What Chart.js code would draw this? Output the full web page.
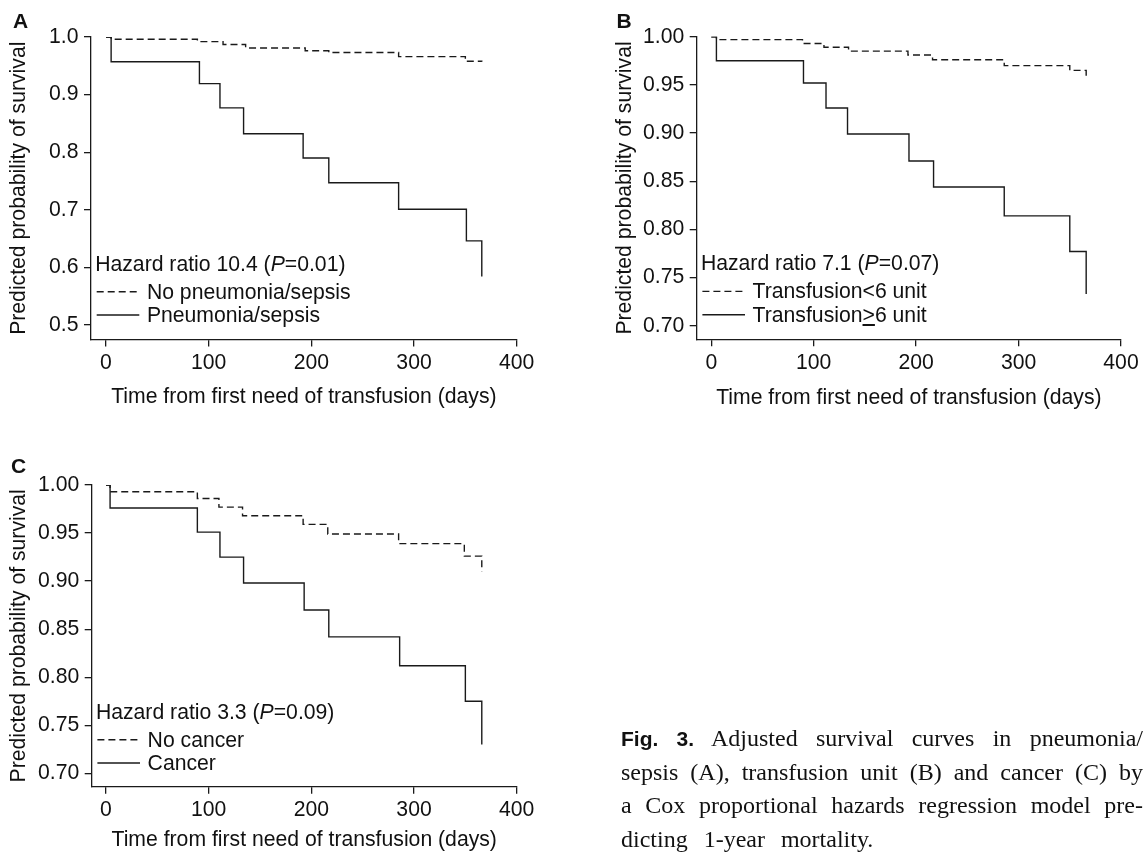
<!DOCTYPE html>
<html>
<head>
<meta charset="utf-8">
<script src="https://cdn.jsdelivr.net/npm/chart.js@4.4.1/dist/chart.umd.min.js"></script>
<style>
html,body{margin:0;padding:0;background:#fff;width:1145px;height:859px;overflow:hidden;}
#page{position:relative;width:1145px;height:859px;overflow:hidden;background:#fff;}
canvas{position:absolute;}
.t{position:absolute;white-space:nowrap;font-family:'Liberation Sans',Arial,sans-serif;color:#111;font-size:21.2px;line-height:21.2px;}
.lab{position:absolute;white-space:nowrap;font-family:'Liberation Sans',Arial,sans-serif;font-weight:bold;color:#111;font-size:21px;line-height:21px;}
.cap{position:absolute;left:621px;width:522px;font-family:'Liberation Serif','Times New Roman',serif;font-size:24px;line-height:24px;color:#111;text-align:justify;text-align-last:justify;white-space:normal;}
.cap b{font-family:'Liberation Sans',Arial,sans-serif;font-size:21px;}
#leg{position:absolute;left:0;top:0;width:1145px;height:859px;pointer-events:none;}
</style>
</head>
<body>
<div id="page">
  <canvas id="cA" width="545" height="430" style="left:0px;top:0px;width:545px;height:430px"></canvas>
  <canvas id="cB" width="539" height="430" style="left:606px;top:0px;width:539px;height:430px"></canvas>
  <canvas id="cC" width="545" height="430" style="left:0px;top:448px;width:545px;height:430px"></canvas>
  <svg id="leg" width="1145" height="859"></svg>
</div>
<script>
// ---------- data ----------
const xTicks = [0, 100, 200, 300, 400];
const xTickLabels = ['0', '100', '200', '300', '400'];
const yTicksA = [0.5, 0.6, 0.7, 0.8, 0.9, 1.0];
const yTickLabelsA = ['0.5', '0.6', '0.7', '0.8', '0.9', '1.0'];
const yTicksBC = [0.70, 0.75, 0.80, 0.85, 0.90, 0.95, 1.00];
const yTickLabelsBC = ['0.70', '0.75', '0.80', '0.85', '0.90', '0.95', '1.00'];

const xTitle = 'Time from first need of transfusion (days)';
const yTitle = 'Predicted probability of survival';
const panelLetters = ['A', 'B', 'C'];
const hazardRatios = ['10.4', '7.1', '3.3'];
const pValues = ['0.01', '0.07', '0.09'];

// Panel A
const labelsA = ['No pneumonia/sepsis', 'Pneumonia/sepsis'];
const daysA_no = [0, 5, 89, 114, 136, 194, 217, 285, 350, 366];
const survA_no = [1.000, 0.996, 0.992, 0.987, 0.981, 0.976, 0.973, 0.966, 0.958, 0.957];
const daysA_yes = [0, 5, 91, 111, 134, 192, 217, 285, 351, 366];
const survA_yes = [1.000, 0.957, 0.919, 0.877, 0.832, 0.790, 0.747, 0.701, 0.646, 0.584];

// Panel B
const labelsB = ['Transfusion<6 unit', 'Transfusion\u22656 unit'];
const daysB_lt6 = [0, 5, 89, 110, 134, 192, 216, 286, 350, 366];
const survB_lt6 = [1.000, 0.997, 0.993, 0.989, 0.985, 0.981, 0.976, 0.970, 0.965, 0.958];
const daysB_ge6 = [0, 5, 90, 112, 133, 193, 217, 286, 350, 366];
const survB_ge6 = [1.000, 0.975, 0.952, 0.926, 0.899, 0.871, 0.844, 0.814, 0.777, 0.733];

// Panel C
const labelsC = ['No cancer', 'Cancer'];
const daysC_no = [0, 4, 89, 110, 133, 192, 216, 285, 349, 366];
const survC_no = [1.000, 0.993, 0.986, 0.977, 0.968, 0.959, 0.949, 0.939, 0.926, 0.910];
const daysC_yes = [0, 4, 89, 111, 134, 193, 217, 286, 350, 366];
const survC_yes = [1.000, 0.976, 0.951, 0.925, 0.898, 0.870, 0.842, 0.812, 0.775, 0.730];

const captionLines = [
  ['Fig. 3.', ' Adjusted survival curves in pneumonia/'],
  ['', 'sepsis (A), transfusion unit (B) and cancer (C) by'],
  ['', 'a Cox proportional hazards regression model pre-'],
  ['', 'dicting 1-year mortality.']
];

// ---------- style ----------
const FONT = "'Liberation Sans', Arial, sans-serif";
const INK = '#1a1a1a';
const FS = 21.2;
Chart.defaults.font.family = FONT;
Chart.defaults.color = '#111';

function pts(days, surv) { return days.map((d, i) => ({ x: d, y: surv[i] })); }

function makeChart(id, g, series, yTicks, yLabels) {
  const canvas = document.getElementById(id);
  const datasets = series.map(s => ({
    label: s.label,
    data: pts(s.days, s.surv),
    borderColor: INK,
    borderWidth: 1.4,
    borderDash: s.dashed ? [7, 4] : [],
    stepped: true,
    pointRadius: 0,
    fill: false,
    tension: 0
  }));
  return new Chart(canvas, {
    type: 'line',
    data: { datasets },
    options: {
      responsive: false,
      animation: false,
      devicePixelRatio: 1,
      events: [],
      layout: { padding: { left: 0, top: g.caT, right: g.w - g.caR, bottom: 0 } },
      plugins: { legend: { display: false }, tooltip: { enabled: false } },
      scales: {
        x: {
          type: 'linear', min: g.xMin, max: 400,
          afterBuildTicks: sc => { sc.ticks = xTicks.map(v => ({ value: v })); },
          afterFit: sc => { sc.height = g.h - g.caB; },
          ticks: { autoSkip: false, maxRotation: 0, minRotation: 0, padding: 3.8,
                   font: { size: FS }, color: '#111',
                   callback: (v, i) => xTickLabels[i] },
          grid: { display: true, drawOnChartArea: false, drawTicks: true, tickLength: 7, color: INK, lineWidth: 1.3 },
          border: { display: true, color: INK, width: 1.3 },
          title: { display: true, text: xTitle, font: { size: FS }, color: '#111', padding: { top: 0, bottom: g.xtPad } }
        },
        y: {
          type: 'linear', min: g.yMin, max: 1.0,
          afterBuildTicks: sc => { sc.ticks = yTicks.map(v => ({ value: v })); },
          afterFit: sc => { sc.width = g.caL; },
          ticks: { autoSkip: false, padding: 5.5, font: { size: FS }, color: '#111',
                   callback: (v, i) => yLabels[i] },
          grid: { display: true, drawOnChartArea: false, drawTicks: true, tickLength: 7, color: INK, lineWidth: 1.3 },
          border: { display: true, color: INK, width: 1.3 },
          title: { display: true, text: yTitle, font: { size: FS }, color: '#111', padding: { top: 6.6, bottom: 0 } }
        }
      }
    }
  });
}

const geo = {
  A: { left: 0,   top: 0,   w: 545, h: 430, caL: 91,   caR: 516.7, caT: 37,   caB: 339.5, xMin: -14.6, yMin: 0.4748, xtPad: 20.5 },
  B: { left: 606, top: 0,   w: 539, h: 430, caL: 90.7, caR: 515,   caT: 36.7, caB: 339.3, xMin: -14.25, yMin: 0.6859, xtPad: 19.6 },
  C: { left: 0,   top: 448, w: 545, h: 430, caL: 91.7, caR: 516.7, caT: 37,   caB: 338.7, xMin: -13.9, yMin: 0.6861, xtPad: 25.3 }
};

const chA = makeChart('cA', geo.A, [
  { label: labelsA[0], days: daysA_no, surv: survA_no, dashed: true },
  { label: labelsA[1], days: daysA_yes, surv: survA_yes, dashed: false }
], yTicksA, yTickLabelsA);
const chB = makeChart('cB', geo.B, [
  { label: labelsB[0], days: daysB_lt6, surv: survB_lt6, dashed: true },
  { label: labelsB[1], days: daysB_ge6, surv: survB_ge6, dashed: false }
], yTicksBC, yTickLabelsBC);
const chC = makeChart('cC', geo.C, [
  { label: labelsC[0], days: daysC_no, surv: survC_no, dashed: true },
  { label: labelsC[1], days: daysC_yes, surv: survC_yes, dashed: false }
], yTicksBC, yTickLabelsBC);

// ---------- overlay text (legends, letters, caption) ----------
const page = document.getElementById('page');
const svg = document.getElementById('leg');
const SANS_BASE = 0.8465; // baseline offset / font-size for line-height = font-size

function esc(s) { return s.replace(/&/g, '&amp;').replace(/</g, '&lt;').replace(/>/g, '&gt;'); }
function fmtLabel(s) { return esc(s).replace('\u2265', '<u>&gt;</u>'); }

function addText(html, left, baseline, cls, fs) {
  const d = document.createElement('div');
  d.className = cls;
  d.innerHTML = html;
  d.style.left = left + 'px';
  d.style.top = (baseline - SANS_BASE * fs) + 'px';
  page.appendChild(d);
}
function addLine(x1, x2, y, dashed) {
  const l = document.createElementNS('http://www.w3.org/2000/svg', 'line');
  l.setAttribute('x1', x1); l.setAttribute('x2', x2);
  l.setAttribute('y1', y); l.setAttribute('y2', y);
  l.setAttribute('stroke', INK); l.setAttribute('stroke-width', '1.4');
  if (dashed) l.setAttribute('stroke-dasharray', '7 4');
  svg.appendChild(l);
}

function addLegend(chart, g, idx) {
  const ca = chart.chartArea;
  const L = g.left + ca.left, T = g.top + ca.top;
  addText('Hazard ratio ' + hazardRatios[idx] + ' (<i>P</i>=' + pValues[idx] + ')', L + 5.7 - 1.5, T + 233.5, 't', FS);
  const labs = chart.data.datasets.map(d => d.label);
  addLine(L + 5.7, L + 48.3, T + 254.7, true);
  addLine(L + 5.7, L + 48.3, T + 278, false);
  addText(fmtLabel(labs[0]), L + 57.4 - 1.5, T + 261.7, 't', FS);
  addText(fmtLabel(labs[1]), L + 57.4 - 1.5, T + 285, 't', FS);
}
addLegend(chA, geo.A, 0);
addLegend(chB, geo.B, 1);
addLegend(chC, geo.C, 2);

addText(panelLetters[0], 13, 28, 'lab', 21);
addText(panelLetters[1], 616.5, 27.5, 'lab', 21);
addText(panelLetters[2], 11, 473, 'lab', 21);

const capBaselines = [746.3, 780, 813.3, 847.3];
captionLines.forEach((ln, i) => {
  const d = document.createElement('div');
  d.className = 'cap';
  d.innerHTML = (ln[0] ? '<b>' + esc(ln[0]) + '</b>' : '') + esc(ln[1]);
  d.style.top = (capBaselines[i] - 0.8375 * 24) + 'px';
  if (i === captionLines.length - 1) { d.style.textAlign = 'left'; d.style.textAlignLast = 'left'; d.style.wordSpacing = '10px'; }
  page.appendChild(d);
});
</script>
</body>
</html>
